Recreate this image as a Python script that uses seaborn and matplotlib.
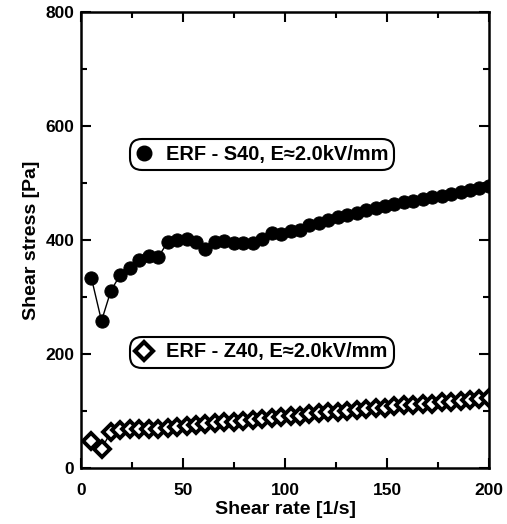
import numpy as np
import pandas as pd
import matplotlib
matplotlib.use("Agg")
import matplotlib.pyplot as plt
import seaborn as sns
from matplotlib.lines import Line2D
from matplotlib.ticker import MultipleLocator

# shear rate [1/s]
shear_rate = [5, 10, 14.6, 19.2, 23.9, 28.5, 33.1, 37.8, 42.4, 47.0, 51.7,
              56.3, 60.9, 65.6, 70.2, 74.9, 79.5, 84.1, 88.8, 93.4, 98.0,
              102.7, 107.3, 111.9, 116.6, 121.2, 125.8, 130.5, 135.1, 139.7,
              144.4, 149.0, 153.6, 158.3, 162.9, 167.5, 172.2, 176.8, 181.4,
              186.1, 190.7, 195.3, 200.0]

# shear stress [Pa]
s40_stress = [334, 258, 311, 339, 350, 365, 372, 370, 396, 400, 402,
              397, 384, 397, 398, 394, 394, 395, 401, 413, 410,
              416, 417, 426, 429, 435, 440, 444, 448, 452,
              456, 460, 463, 466, 469, 472, 475, 478, 481,
              484, 487, 491, 494]
z40_stress = [48, 34, 63, 66, 68, 68, 68, 68, 70, 72, 74,
              75, 77, 78, 80, 81, 83, 84, 86, 88, 89,
              91, 92, 94, 96, 98, 99, 100, 102, 103,
              105, 106, 108, 110, 111, 112, 113, 115, 116,
              117, 119, 121, 123]

label_s40 = "ERF - S40, E\u22482.0kV/mm"
label_z40 = "ERF - Z40, E\u22482.0kV/mm"

df = pd.DataFrame({"rate": shear_rate, "S40": s40_stress, "Z40": z40_stress})

sns.set_style("ticks")
plt.rcParams["font.family"] = ["Liberation Sans", "DejaVu Sans"]
plt.rcParams["font.weight"] = "bold"
for key in ["text.color", "axes.labelcolor", "xtick.color", "ytick.color",
            "axes.edgecolor"]:
    plt.rcParams[key] = "black"

fig = plt.figure(figsize=(5.07, 5.24), dpi=100)
ax = fig.add_axes([0.16, 0.107, 0.8045, 0.870])

sns.lineplot(data=df, x="rate", y="S40", ax=ax, color="black", lw=1.0,
             marker="o", markersize=9.5, markerfacecolor="black",
             markeredgecolor="black", estimator=None)
sns.lineplot(data=df, x="rate", y="Z40", ax=ax, color="black", lw=1.0,
             marker="D", markersize=8, markerfacecolor="white",
             markeredgecolor="black", markeredgewidth=2.8, estimator=None)

ax.set_xlim(0, 200)
ax.set_ylim(0, 800)
ax.xaxis.set_major_locator(MultipleLocator(50))
ax.xaxis.set_minor_locator(MultipleLocator(25))
ax.yaxis.set_major_locator(MultipleLocator(200))
ax.yaxis.set_minor_locator(MultipleLocator(100))
ax.tick_params(which="both", direction="in", top=True, right=True,
               width=1.5, labelsize=12.5, colors="black")
ax.tick_params(which="major", length=7)
ax.tick_params(which="minor", length=4)
ax.tick_params(axis="x", which="major", pad=11)
ax.tick_params(axis="y", which="major", pad=5)
for lab in ax.get_xticklabels() + ax.get_yticklabels():
    lab.set_fontweight("bold")
for sp in ax.spines.values():
    sp.set_linewidth(1.8)
    sp.set_color("black")

ax.set_xlabel("Shear rate [1/s]", fontsize=14, fontweight="bold", labelpad=2)
ax.set_ylabel("Shear stress [Pa]", fontsize=14, fontweight="bold", labelpad=4)

h_s40 = Line2D([], [], ls="none", marker="o", ms=10.5, color="black")
h_z40 = Line2D([], [], ls="none", marker="D", ms=9, mfc="white",
               mec="black", mew=3)

common = dict(loc="center", frameon=True, fancybox=True, framealpha=1,
              edgecolor="black", handlelength=0.8, handletextpad=0.7,
              borderpad=0.3, prop={"size": 14.4, "weight": "bold"},
              labelcolor="black", bbox_transform=fig.transFigure)
leg1 = ax.legend([h_s40], [label_s40],
                 bbox_to_anchor=(262 / 507, 1 - 154.5 / 524), **common)
leg1.get_frame().set_linewidth(1.5)
leg1.get_frame().set_boxstyle("round", pad=0, rounding_size=0.6)
ax.add_artist(leg1)
leg2 = ax.legend([h_z40], [label_z40],
                 bbox_to_anchor=(262 / 507, 1 - 352 / 524), **common)
leg2.get_frame().set_linewidth(1.5)
leg2.get_frame().set_boxstyle("round", pad=0, rounding_size=0.6)

fig.savefig("out.png", dpi=100)
